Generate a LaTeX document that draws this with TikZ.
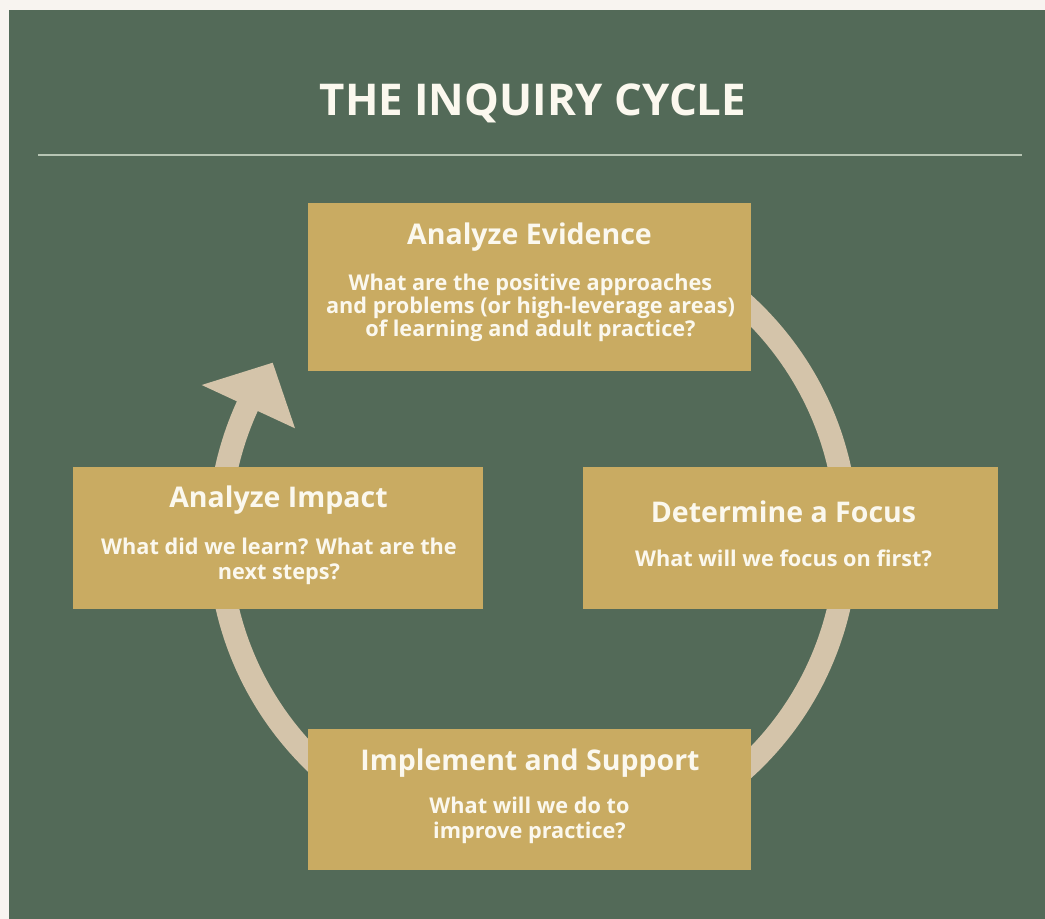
\documentclass[tikz,border=0pt]{standalone}
\usepackage{fontspec}
\setmainfont{Open Sans}
\definecolor{bgwhite}{HTML}{F8F4F0}
\definecolor{bggreen}{HTML}{536A58}
\definecolor{boxgold}{HTML}{C9AB62}
\definecolor{ringcol}{HTML}{D4C4AA}
\definecolor{txtcol}{HTML}{FBF8EE}
\definecolor{rulecol}{HTML}{B7C5B4}
\begin{document}
\begin{tikzpicture}[x=1pt,y=1pt,
  headtxt/.style={text=txtcol, anchor=base, inner sep=0pt, font=\fontsize{28.5}{31}\selectfont\bfseries},
  bodytxt/.style={text=txtcol, anchor=base, inner sep=0pt, align=center, font=\fontsize{21.7}{25}\selectfont\bfseries},
  ringline/.style={draw=ringcol, line width=23pt},
  ringhead/.style={fill=ringcol, draw=none}]
% background
\fill[bgwhite] (0,0) rectangle (1045,-919);
\fill[bggreen] (9,-10) rectangle (1045,-919);
\useasboundingbox (0,0) rectangle (1045,-919);
% title
\node[text=txtcol, anchor=base, inner sep=0pt, font=\fontsize{43.8}{48}\selectfont\bfseries] (title) at (533,-115) {THE INQUIRY CYCLE};
\coordinate (ruleL) at (38,-155);
\coordinate (ruleR) at (1022,-155);
\draw[rulecol, line width=2pt] (ruleL) -- (ruleR);
% ring
\coordinate (c) at (533,-536.5);
\draw[ringline] (c) ++(130:314) arc[start angle=130, end angle=-206, radius=314];
\coordinate (hA) at (201.7,-385);
\coordinate (hB) at (272.7,-362.7);
\coordinate (hC) at (295,-428.3);
\fill[ringhead] (hA) -- (hB) -- (hC) -- cycle;
% boxes
\fill[boxgold] (308,-203) rectangle (751,-371);
\fill[boxgold] (73,-467) rectangle (483,-609);
\fill[boxgold] (583,-467) rectangle (998,-609);
\fill[boxgold] (308,-729) rectangle (751,-870);
% texts
\node[headtxt] (evh) at (529.5,-244) {Analyze Evidence};
\node[bodytxt, font=\fontsize{21.7}{23}\selectfont\bfseries] (evb) at (530.5,-336.5) {What are the positive approaches\\and problems (or high-leverage areas)\\of learning and adult practice?};
\node[headtxt] (imh) at (278.5,-507.5) {Analyze Impact};
\node[bodytxt] (imb) at (279,-579.5) {What did we learn? What are the\\next steps?};
\node[headtxt] (foh) at (783.5,-522.5) {Determine a Focus};
\node[bodytxt] (fob) at (783.5,-566.5) {What will we focus on first?};
\node[headtxt] (suh) at (530,-770.5) {Implement and Support};
\node[bodytxt] (sub) at (529.5,-838.5) {What will we do to\\improve practice?};
\end{tikzpicture}
\end{document}
